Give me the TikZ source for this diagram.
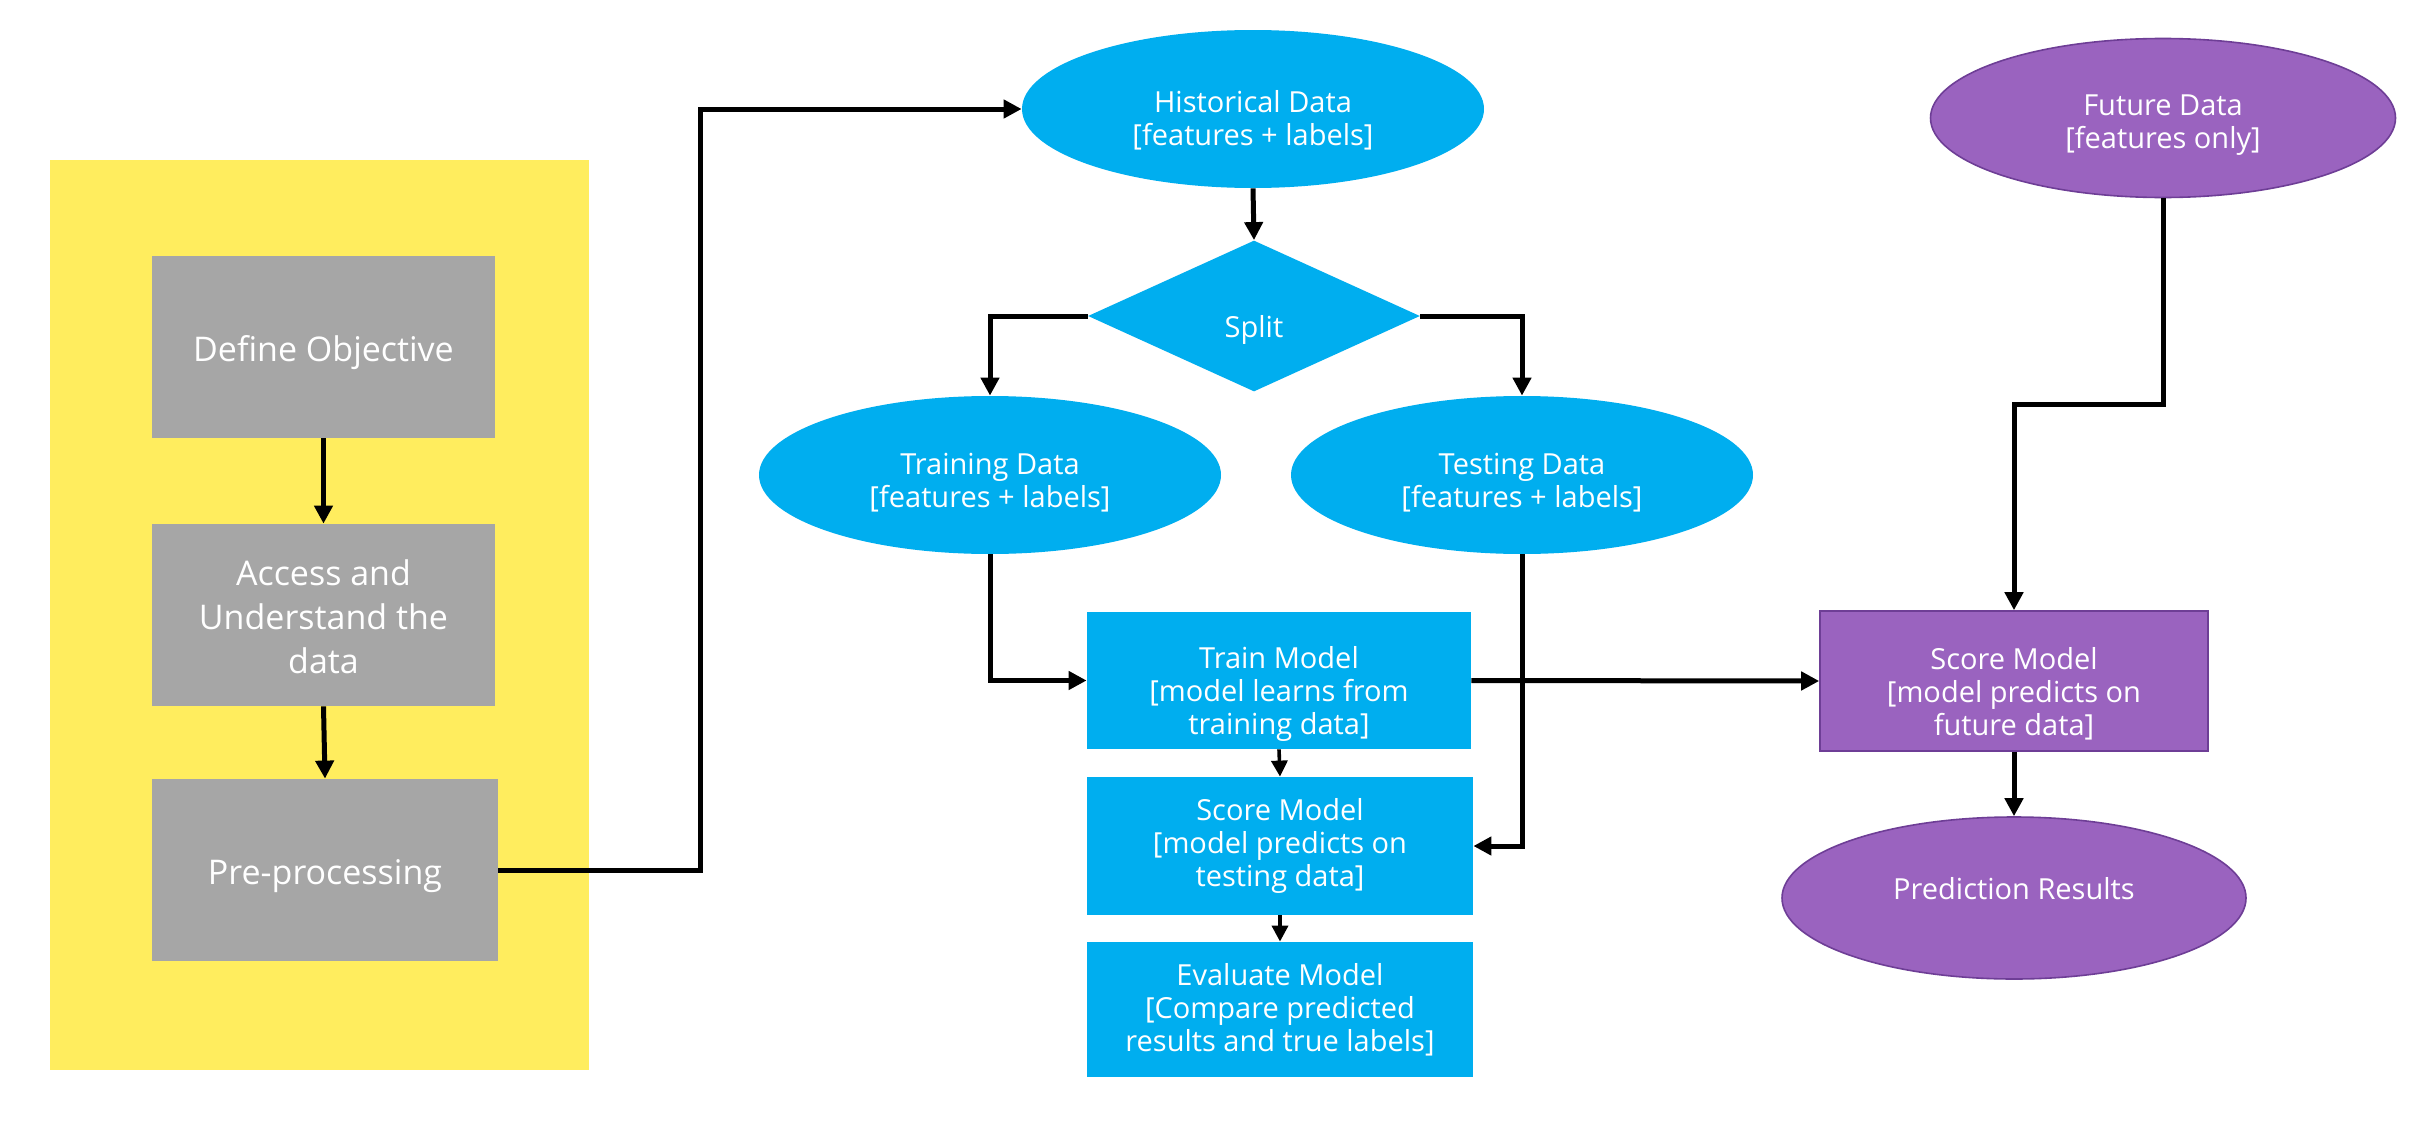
\documentclass[tikz,border=0pt]{standalone}
\usepackage{fontspec}
\setmainfont{Open Sans}
\usetikzlibrary{shapes.geometric,arrows.meta}
\definecolor{ybg}{RGB}{255,237,94}
\definecolor{greybox}{RGB}{166,166,166}
\definecolor{bluebox}{RGB}{0,174,239}
\definecolor{purplebox}{RGB}{154,99,191}
\definecolor{purpleline}{RGB}{110,62,150}
\tikzset{
  yellowbg/.style={fill=ybg, draw=none, rectangle, inner sep=0pt},
  greynode/.style={fill=greybox, draw=none, rectangle, inner sep=0pt},
  gtext/.style={text=white, align=center, inner sep=0pt, font=\fontsize{17pt}{22pt}\selectfont},
  blueell/.style={fill=bluebox, draw=none, ellipse, inner sep=0pt,
    minimum width=231pt, minimum height=79pt},
  bluebox/.style={fill=bluebox, draw=none, rectangle, inner sep=0pt},
  bluediam/.style={fill=bluebox, draw=none, diamond, inner sep=0pt,
    minimum width=166pt, minimum height=75.5pt},
  btext/.style={text=white, align=center, inner sep=0pt, font=\fontsize{14.5pt}{16.5pt}\selectfont},
  purpleell/.style={fill=purplebox, draw=purpleline, line width=0.8pt, ellipse, inner sep=0pt},
  purplebox/.style={fill=purplebox, draw=purpleline, line width=0.8pt, rectangle, inner sep=0pt},
  ptext/.style={text=white, align=center, inner sep=0pt, font=\fontsize{14.5pt}{16.5pt}\selectfont},
  conn/.style={draw=black, line width=2.5pt, -{Triangle[length=9pt,width=9pt]}},
  thinconn/.style={draw=black, line width=1.8pt, -{Triangle[length=8pt,width=8pt]}},
}
\begin{document}
\begin{tikzpicture}[x=0.5pt,y=-0.5pt]
\useasboundingbox[fill=white] (0,0) rectangle (2427,1124);
% yellow background
\node (yb) [yellowbg, minimum width=269.5pt, minimum height=455pt] at (319.5,615) {};
% grey boxes
\node (def) [greynode, minimum width=171.5pt, minimum height=91pt,
  label={[gtext,yshift=-3pt]center:{Define Objective}}] at (323.5,347) {};
\node (acc) [greynode, minimum width=171.5pt, minimum height=91pt,
  label={[gtext,yshift=-0.7pt]center:{Access and\\Understand the\\data}}] at (323.5,615) {};
\node (pre) [greynode, minimum width=173pt, minimum height=91pt,
  label={[gtext,yshift=-3pt]center:{Pre-processing}}] at (325,870) {};
% blue nodes
\node (hist) [blueell, label={[btext,yshift=-5.5pt]center:{Historical Data\\{[}features + labels{]}}}] at (1253,109) {};
\node (split) [bluediam, label={[btext,yshift=-7pt]center:{Split}}] at (1254,316) {};
\node (train) [blueell, label={[btext,yshift=-3.9pt]center:{Training Data\\{[}features + labels{]}}}] at (990,475) {};
\node (test) [blueell, label={[btext,yshift=-3.9pt]center:{Testing Data\\{[}features + labels{]}}}] at (1522,475) {};
\node (trm) [bluebox, minimum width=192pt, minimum height=68.5pt,
  label={[btext,yshift=-6.5pt]center:{Train Model\\{[}model learns from\\training data{]}}}] at (1279,680.5) {};
\node (scm) [bluebox, minimum width=193pt, minimum height=69pt,
  label={[btext]center:{Score Model\\{[}model predicts on\\testing data{]}}}] at (1280,846) {};
\node (evm) [bluebox, minimum width=193pt, minimum height=67.5pt,
  label={[btext]center:{Evaluate Model\\{[}Compare predicted\\results and true labels{]}}}] at (1280,1009.5) {};
% purple nodes
\node (fut) [purpleell, minimum width=232.5pt, minimum height=79.5pt,
  label={[ptext,yshift=-3.5pt]center:{Future Data\\{[}features only{]}}}] at (2163,118) {};
\node (psm) [purplebox, minimum width=194pt, minimum height=70pt,
  label={[ptext,yshift=-6.2pt]center:{Score Model\\{[}model predicts on\\future data{]}}}] at (2014,681) {};
\node (pred) [purpleell, minimum width=232pt, minimum height=81pt,
  label={[ptext,yshift=4.6pt]center:{Prediction Results}}] at (2014,898) {};
% junction coordinates
\coordinate (j1) at (700,870);
\coordinate (j2) at (2088,404);
% connectors
\draw[conn] (def.south) -- (acc.north);
\draw[conn] (acc.south) -- (pre.north);
\draw[conn] (pre.east) -- (j1) |- (hist.west);
\draw[conn] (hist.south) -- (split.north);
\draw[conn] (split.west) -| (train.north);
\draw[conn] (split.east) -| (test.north);
\draw[conn] (train.south) |- (trm.west);
\draw[conn] (test.south) |- (scm.east);
\draw[thinconn] (trm.south) -- (scm.north);
\draw[thinconn] (scm.south) -- (evm.north);
\draw[conn] (trm.east) -- (psm.west);
\draw[conn] (fut.south) |- (j2) -| (psm.north);
\draw[conn] (psm.south) -- (pred.north);
\end{tikzpicture}
\end{document}
